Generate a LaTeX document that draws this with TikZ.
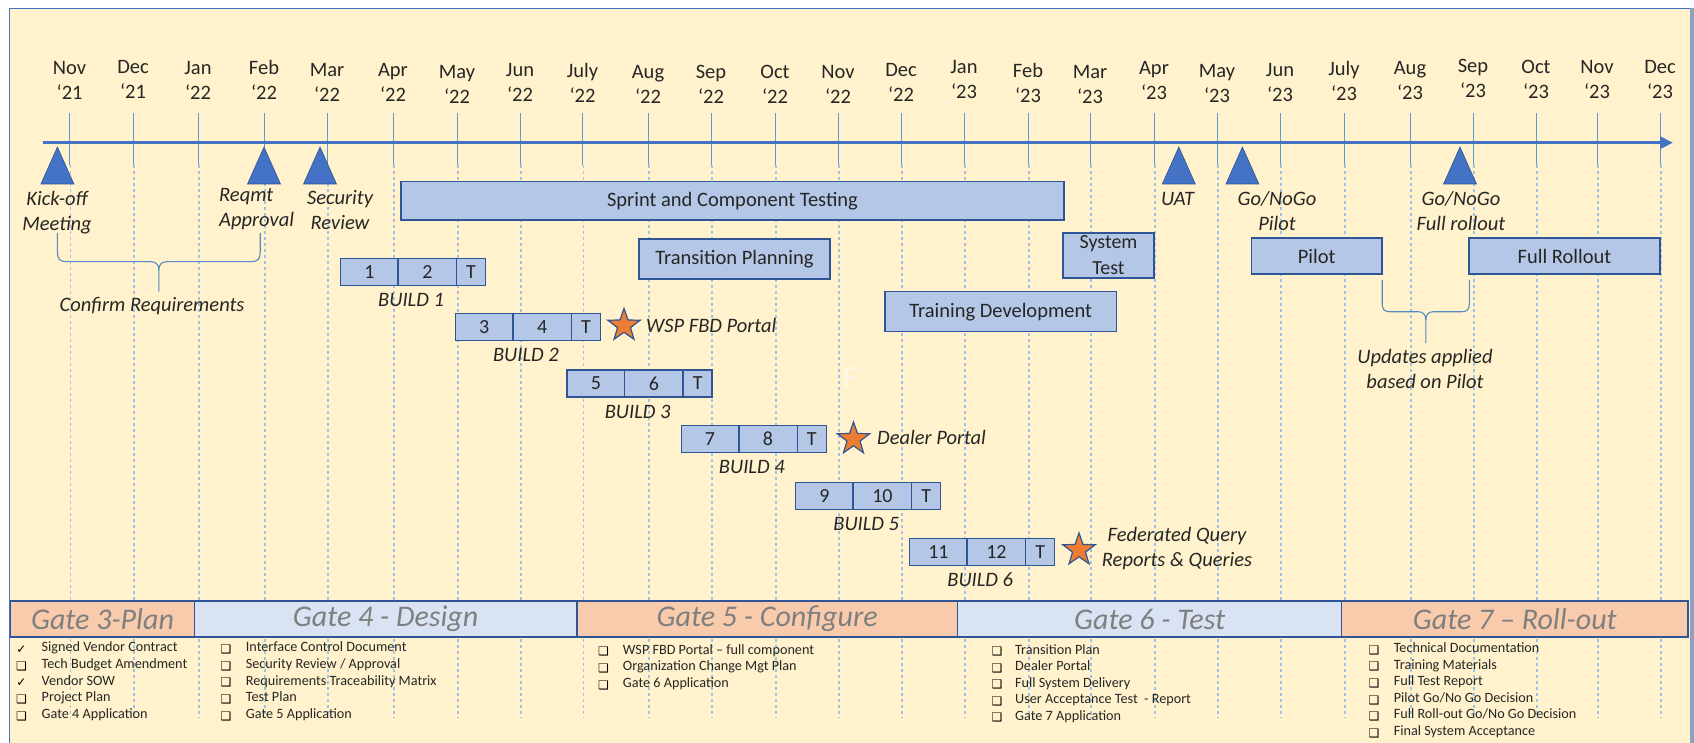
\documentclass[tikz,border=0pt]{standalone}
\usepackage{fontspec}
\setmainfont{Carlito}
\newfontfamily\symfont{DejaVu Sans}
\usetikzlibrary{arrows.meta,shapes.geometric}
\definecolor{bgy}{HTML}{FFF2CC}
\definecolor{axisblue}{HTML}{4472C4}
\definecolor{tickblue}{HTML}{5B9BD5}
\definecolor{dashblue}{HTML}{9DC3E6}
\definecolor{boxfill}{HTML}{B4C7E7}
\definecolor{boxline}{HTML}{2F5597}
\definecolor{starorange}{HTML}{ED7D31}
\definecolor{salmon}{HTML}{F8CBAD}
\definecolor{paleblue}{HTML}{DAE3F3}
\definecolor{gatetext}{HTML}{7F7F7F}
\definecolor{txt}{HTML}{262626}
\definecolor{framegray}{HTML}{8FA1BF}
\newcommand\mstone[1]{\fill[axisblue, draw=boxline, line width=0.6] (#1,147) -- (#1-16.5,184) -- (#1+16.5,184) -- cycle;}
\newcommand\buildbox[5]{%
  \node[cell, minimum width=57.5, anchor=north west] (b#1a) at (#2,#3) {#4};
  \node[cell, minimum width=58.5, anchor=north west] (b#1b) at (b#1a.north east) {#5};
  \node[cell, minimum width=29, anchor=north west] (b#1t) at (b#1b.north east) {T};
  \node[lab] (bl#1) at (#2+70.5,#3+41.5) {BUILD #1};
}
\begin{document}
\begin{tikzpicture}[x=1pt,y=-1pt,
  mon/.style={align=center, inner sep=0, font=\fontsize{20.5}{25}\selectfont, text=txt},
  lab/.style={align=center, inner sep=0, font=\itshape\fontsize{20.5}{25}\selectfont, text=txt},
  bar/.style={draw=boxline, fill=boxfill, line width=1.5, inner sep=0, outer sep=0, align=center,
    font=\fontsize{20.5}{24}\selectfont, text=txt},
  cell/.style={draw=boxline, fill=boxfill, line width=1.5, inner sep=0, outer sep=0,
    minimum height=27, font=\fontsize{20}{24}\selectfont, text=txt},
  starmark/.style={star, star points=5, star point ratio=2.5, minimum size=34, inner sep=0,
    fill=starorange, draw=boxline, line width=1.2},
  gate/.style={draw=boxline, line width=1.5, minimum height=36, inner sep=0, outer sep=0,
    anchor=north west, font=\itshape\fontsize{30}{34}\selectfont, text=gatetext},
  brace/.style={draw=tickblue!90!black, line width=1.1},
  li/.style={anchor=mid west, inner sep=0, font=\fontsize{14.2}{16}\selectfont, text=txt},
  bul/.style={anchor=center, inner sep=0, font=\symfont\fontsize{12}{14}\selectfont, text=black},
]
\useasboundingbox (0,0) rectangle (1694,743);
\fill[white] (0,0) rectangle (1694,743);
\fill[bgy] (9.6,8.3) rectangle (1691,743);
\draw[axisblue, line width=1] (9.6,745) -- (9.6,8.3) -- (1691,8.3);
\draw[framegray, line width=3.5] (1692.2,8.3) -- (1692.2,745);

% month ticks and labels
\foreach \x/\m/\yy/\ly [count=\i] in {69.6/Nov/21/93, 133/Dec/21/92, 198/Jan/22/93, 264/Feb/22/92,
  327/Mar/22/95, 393/Apr/22/95, 457/May/22/97, 520/Jun/22/95, 582.5/July/22/95, 648/Aug/22/97,
  711/Sep/22/97, 775/Oct/22/97, 838/Nov/22/97, 901/Dec/22/95, 964/Jan/23/92, 1028/Feb/23/95,
  1090/Mar/23/97, 1154/Apr/23/93, 1217/May/23/96, 1280/Jun/23/95, 1344/July/23/93, 1410/Aug/23/93,
  1473/Sep/23/91, 1536/Oct/23/92, 1597/Nov/23/92, 1660/Dec/23/92} {
  \draw[dashblue, line width=1.1, dash pattern=on 3pt off 3pt] (\x+1,165) -- (\x+1,718);
  \draw[tickblue, line width=1] (\x,113) -- (\x,165);
  \node[mon] (m\i) at (\x,\ly-12.5) {\m\\‘\yy};
}
\node[font=\fontsize{31}{34}\selectfont, text=white!55!bgy, inner sep=0] (ghost) at (850,378) {F};

% axis
\coordinate (axS) at (43,142.7);
\coordinate (axE) at (1673,142.7);
\draw[axisblue, line width=3.5, -{Triangle[length=13pt,width=12pt]}] (axS) -- (axE);

% milestones
\mstone{57.4}
\mstone{264}
\mstone{320}
\mstone{1178.8}
\mstone{1242.4}
\mstone{1460}
\node[lab] (kick) at (57,213) {Kick-off\\Meeting};
\node[lab, align=left, anchor=west] (reqmt) at (219,209.5) {Reqmt\\Approval};
\node[lab] (secrev) at (340,210) {Security\\Review};
\node[lab] (uat) at (1177.6,199) {UAT};
\node[lab] (gopilot) at (1277,211.5) {Go/NoGo\\Pilot};
\node[lab] (gofull) at (1461,211.5) {Go/NoGo\\Full rollout};

% activity bars
\node[bar, minimum width=663, minimum height=38.3] (sprint) at (732.5,200.8) {Sprint and Component Testing};
\node[bar, minimum width=191, minimum height=40] (trans) at (734.5,259) {Transition Planning};
\node[bar, minimum width=91, minimum height=45, font=\fontsize{20}{26}\selectfont] (systest) at (1108.5,255.5) {System\\Test};
\node[bar, minimum width=231.4, minimum height=40] (train) at (1000.7,311.7) {Training Development};
\node[bar, minimum width=130.5, minimum height=36] (pilot) at (1316.7,256) {Pilot};
\node[bar, minimum width=191, minimum height=36] (full) at (1564.5,256) {Full Rollout};

% braces
\coordinate (crL) at (57.4,233);
\coordinate (crR) at (260.2,233);
\coordinate (crM) at (158.8,291.7);
\draw[brace] (crL) -- (57.4,252) .. controls (57.4,258.5) and (59.5,261.7) .. (66,261.7) -- (150.5,261.7)
  .. controls (156,261.7) and (158.8,264.5) .. (158.8,270) -- (crM);
\draw[brace] (158.8,270) .. controls (158.8,264.5) and (161.6,261.7) .. (167,261.7) -- (251.5,261.7)
  .. controls (258,261.7) and (260.2,258.5) .. (260.2,252) -- (crR);
\node[lab] (confirm) at (152,306) {Confirm Requirements};

\coordinate (upL) at (1382.2,280);
\coordinate (upR) at (1469.3,280);
\coordinate (upM) at (1425.8,343);
\draw[brace] (upL) -- (1382.2,304) .. controls (1382.2,309.5) and (1384.5,311.7) .. (1390,311.7) -- (1418,311.7)
  .. controls (1423,311.7) and (1425.8,314.5) .. (1425.8,320) -- (upM);
\draw[brace] (1425.8,320) .. controls (1425.8,314.5) and (1428.6,311.7) .. (1433.6,311.7) -- (1461.5,311.7)
  .. controls (1467,311.7) and (1469.3,309.5) .. (1469.3,304) -- (upR);
\node[lab] (updates) at (1425,369) {Updates applied\\based on Pilot};

% builds
\buildbox{1}{340.6}{258.3}{1}{2}
\buildbox{2}{455.4}{313.3}{3}{4}
\buildbox{3}{567.2}{370}{5}{6}
\buildbox{4}{681.3}{425.7}{7}{8}
\buildbox{5}{795.7}{482.7}{9}{10}
\buildbox{6}{909.7}{538.3}{11}{12}

% stars
\node[starmark] (s1) at (624,325.5) {};
\node[lab, anchor=west] (wsp) at (646,325) {WSP FBD Portal};
\node[starmark] (s2) at (853.5,439) {};
\node[lab, anchor=west] (dealer) at (877,437.5) {Dealer Portal};
\node[starmark] (s3) at (1079,550) {};
\node[lab] (fed) at (1177,549) {Federated Query\\Reports \& Queries};

% gates
\node[gate, fill=salmon, minimum width=183.7] (g3) at (10.7,601) {Gate 3-Plan};
\node[gate, fill=paleblue, minimum width=382.4] (g4) at (194.4,601) {Gate 4 - Design};
\node[gate, fill=salmon, minimum width=380.8] (g5) at (576.8,601) {Gate 5 - Configure};
\node[gate, fill=paleblue, minimum width=384.1] (g6) at (957.6,601) {Gate 6 - Test};
\node[gate, fill=salmon, minimum width=346.3] (g7) at (1341.7,601) {Gate 7 – Roll-out};

% checklists
\foreach \b/\t [count=\k from 0] in {✓/Signed Vendor Contract, ❑/Tech Budget Amendment, ✓/Vendor SOW,
  ❑/Project Plan, ❑/Gate 4 Application} {
  \node[bul] (c3b\k) at (21.5,649.3+16.7*\k) {\b};
  \node[li] (c3t\k) at (41.5,649.3+16.7*\k) {\t};
}
\foreach \t [count=\k from 0] in {Interface Control Document, Security Review / Approval,
  Requirements Traceability Matrix, Test Plan, Gate 5 Application} {
  \node[bul] (c4b\k) at (226,649.3+16.7*\k) {❑};
  \node[li] (c4t\k) at (245.7,649.3+16.7*\k) {\t};
}
\foreach \t [count=\k from 0] in {WSP FBD Portal – full component, Organization Change Mgt Plan,
  Gate 6 Application} {
  \node[bul] (c5b\k) at (603.6,651.7+16.9*\k) {❑};
  \node[li] (c5t\k) at (622.7,651.7+16.9*\k) {\t};
}
\foreach \t [count=\k from 0] in {Transition Plan, Dealer Portal, Full System Delivery,
  User Acceptance Test~ - Report, Gate 7 Application} {
  \node[bul] (c6b\k) at (997,651.7+16.5*\k) {❑};
  \node[li] (c6t\k) at (1015,651.7+16.5*\k) {\t};
}
\foreach \t [count=\k from 0] in {Technical Documentation, Training Materials, Full Test Report,
  Pilot Go/No Go Decision, Full Roll-out Go/No Go Decision, Final System Acceptance} {
  \node[bul] (c7b\k) at (1374,650+16.65*\k) {❑};
  \node[li] (c7t\k) at (1393.6,650+16.65*\k) {\t};
}
\end{tikzpicture}
\end{document}
